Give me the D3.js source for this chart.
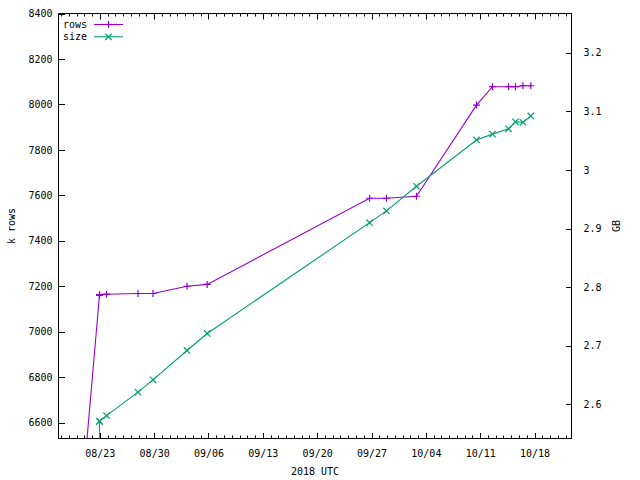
<!DOCTYPE html>
<html><head><meta charset="utf-8">
<script src="https://cdn.jsdelivr.net/npm/d3@7"></script>
<style>
body{margin:0;background:#fff;}
text{font-family:"DejaVu Sans Mono","Liberation Mono",monospace;font-size:10px;fill:#000;}
</style></head>
<body><svg id="c" width="640" height="480"></svg>
<script>
// ---- data ----
const rowsDates = ["2018-08-21T00:00","2018-08-22T23:00","2018-08-22T23:10","2018-08-23T21:00","2018-08-27T22:00","2018-08-29T20:30","2018-09-03T05:30","2018-09-05T20:00","2018-09-26T18:00","2018-09-28T22:20","2018-10-02T19:00","2018-10-10T12:30","2018-10-12T14:00","2018-10-14T15:30","2018-10-15T13:00","2018-10-16T12:00","2018-10-17T12:30"];
const rowsValues = [6390,7160,7163,7165,7168,7168,7200,7208,7587,7587,7596,7997,8078,8078,8078,8082,8082];
const sizeDates = ["2018-08-22T23:00","2018-08-22T23:05","2018-08-22T23:10","2018-08-23T21:00","2018-08-27T22:00","2018-08-29T20:30","2018-09-03T05:30","2018-09-05T20:00","2018-09-26T18:00","2018-09-28T22:20","2018-10-02T19:00","2018-10-10T12:30","2018-10-12T14:00","2018-10-14T15:30","2018-10-15T13:00","2018-10-16T12:00","2018-10-17T12:30"];
const sizeValues = [2.40,2.571,2.5715,2.581,2.621,2.642,2.692,2.721,2.910,2.930,2.972,3.051,3.061,3.070,3.082,3.081,3.092];
const xTickLabels = ["08/23","08/30","09/06","09/13","09/20","09/27","10/04","10/11","10/18"];
const yTicks = [6600,6800,7000,7200,7400,7600,7800,8000,8200,8400];
const y2Ticks = [2.6,2.7,2.8,2.9,3.0,3.1,3.2];
const seriesNames = ["rows","size"];
const seriesColors = ["#9400d3","#009e73"];

// ---- layout ----
const L=58.5,R=571.5,T=13.5,B=438.5;
const parse = d3.utcParse("%Y-%m-%dT%H:%M");
const fmt = d3.utcFormat("%m/%d");
const x = d3.scaleUtc().domain([parse("2018-08-17T16:20"),parse("2018-10-22T18:15")]).range([L,R]);
const y = d3.scaleLinear().domain([6530,8400]).range([B,T]);
const y2 = d3.scaleLinear().domain([2.5419,3.2667]).range([B,T]);

const svg = d3.select("#c");
svg.append("defs").append("clipPath").attr("id","clip").append("rect")
  .attr("x",L).attr("y",T).attr("width",R-L).attr("height",B-T);

const majorDates = xTickLabels.map(s=>d3.utcParse("%Y %m/%d")("2018 "+s));
const minorDates = d3.utcDay.range(x.domain()[0], x.domain()[1]);

// bottom axis
const xAxis = d3.axisBottom(x).tickValues(majorDates).tickFormat(fmt).tickSize(-6).tickPadding(11);
const gx = svg.append("g").attr("transform",`translate(0,${B})`).call(xAxis);
// minor ticks bottom & top
svg.append("g").selectAll("line").data(minorDates).join("line")
  .attr("x1",d=>Math.round(x(d))+0.5).attr("x2",d=>Math.round(x(d))+0.5).attr("y1",B).attr("y2",B-3).attr("stroke","#000");
svg.append("g").selectAll("line").data(minorDates).join("line")
  .attr("x1",d=>Math.round(x(d))+0.5).attr("x2",d=>Math.round(x(d))+0.5).attr("y1",T).attr("y2",T+3).attr("stroke","#000");
svg.append("g").selectAll("line").data(majorDates).join("line")
  .attr("x1",d=>Math.round(x(d))+0.5).attr("x2",d=>Math.round(x(d))+0.5).attr("y1",T).attr("y2",T+6).attr("stroke","#000");

const gy = svg.append("g").attr("transform",`translate(${L},0)`)
  .call(d3.axisLeft(y).tickValues(yTicks).tickFormat(d3.format("d")).tickSize(-6).tickPadding(6));
const gy2 = svg.append("g").attr("transform",`translate(${R},0)`)
  .call(d3.axisRight(y2).tickValues(y2Ticks).tickFormat(d=>d3.format("")(+d.toFixed(1))).tickSize(-6).tickPadding(12));
[gx,gy,gy2].forEach(g=>{
  g.select(".domain").remove();
  g.selectAll("line").attr("stroke","#000").attr("shape-rendering","crispEdges");
  g.selectAll("text").attr("font-family",null).attr("font-size",null);
});
svg.append("rect").attr("x",L).attr("y",T).attr("width",R-L).attr("height",B-T)
  .attr("fill","none").attr("stroke","#000").attr("shape-rendering","crispEdges");

// axis titles
svg.append("text").attr("x",(L+R)/2).attr("y",475).attr("text-anchor","middle").text("2018 UTC");
svg.append("text").attr("transform",`translate(15,${(T+B)/2}) rotate(-90)`).attr("text-anchor","middle").text("k rows");
svg.append("text").attr("transform",`translate(620,${(T+B)/2}) rotate(-90)`).attr("text-anchor","middle").text("GB");

// series
const series = [
  {name:seriesNames[0],color:seriesColors[0],pts:rowsDates.map((d,i)=>[x(parse(d)),y(rowsValues[i])]),mark:"plus"},
  {name:seriesNames[1],color:seriesColors[1],pts:sizeDates.map((d,i)=>[x(parse(d)),y2(sizeValues[i])]),mark:"cross"}
];
function marker(g,cx,cy,type,color){
  const s=3.5;
  if(type==="plus"){
    g.append("line").attr("x1",cx-s).attr("x2",cx+s).attr("y1",cy).attr("y2",cy).attr("stroke",color);
    g.append("line").attr("x1",cx).attr("x2",cx).attr("y1",cy-s).attr("y2",cy+s).attr("stroke",color);
  } else {
    const t=3.2;
    g.append("line").attr("x1",cx-t).attr("x2",cx+t).attr("y1",cy-t).attr("y2",cy+t).attr("stroke",color);
    g.append("line").attr("x1",cx-t).attr("x2",cx+t).attr("y1",cy+t).attr("y2",cy-t).attr("stroke",color);
  }
}
const plot = svg.append("g").attr("clip-path","url(#clip)");
const line = d3.line();
series.forEach(s=>{
  plot.append("path").attr("d",line(s.pts)).attr("fill","none").attr("stroke",s.color).attr("stroke-width",1.1);
  const mg = plot.append("g").attr("stroke-width",1.2);
  s.pts.filter(p=>p[1]>=T&&p[1]<=B).forEach(p=>marker(mg,p[0],p[1],s.mark,s.color));
});

// legend
series.forEach((s,i)=>{
  const ly = 24.5 + i*12.3;
  svg.append("text").attr("x",63).attr("y",ly).attr("dy","0.35em").text(s.name);
  svg.append("line").attr("x1",94).attr("x2",123).attr("y1",ly).attr("y2",ly).attr("stroke",s.color).attr("stroke-width",1.1);
  const mg = svg.append("g").attr("stroke-width",1.2);
  marker(mg,108.5,ly,s.mark,s.color);
});
</script></body></html>
